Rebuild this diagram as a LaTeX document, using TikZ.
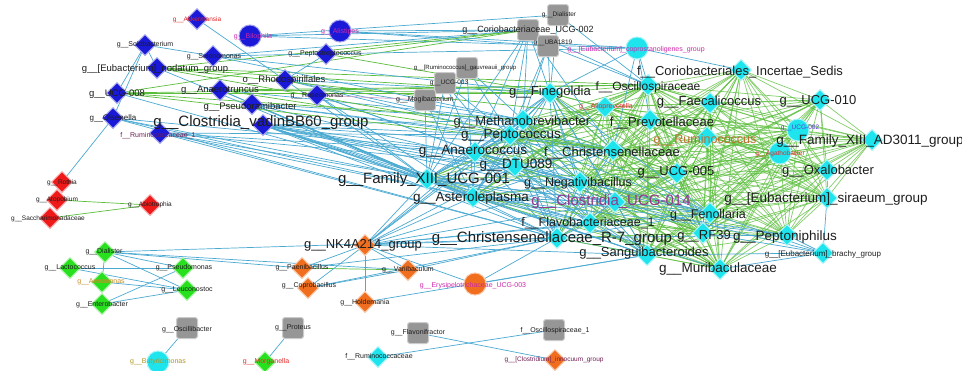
\documentclass[tikz,border=0pt]{standalone}
\usepackage{fontspec}
\setmainfont{Liberation Sans}
\usetikzlibrary{shapes.geometric}
\pgfdeclarelayer{bg}
\pgfsetlayers{bg,main}
\definecolor{cblue}{RGB}{25,25,215}
\definecolor{cred}{RGB}{240,25,25}
\definecolor{cgreen}{RGB}{40,225,30}
\definecolor{corange}{RGB}{240,110,30}
\definecolor{ccyan}{RGB}{30,228,238}
\definecolor{sqgray}{RGB}{150,150,150}
\definecolor{eblue}{RGB}{75,170,210}
\definecolor{egreen}{RGB}{90,190,60}
\definecolor{epink}{RGB}{205,160,205}
\definecolor{txt}{RGB}{30,30,30}
\definecolor{lmag}{RGB}{205,40,170}
\definecolor{lred}{RGB}{230,40,40}
\definecolor{lpur}{RGB}{150,55,140}
\definecolor{ldpur}{RGB}{115,30,85}
\definecolor{lbrown}{RGB}{190,110,45}
\definecolor{lolive}{RGB}{175,150,30}
\definecolor{lorg}{RGB}{200,140,40}
\definecolor{lbp}{RGB}{90,60,200}
\tikzset{
 fs/.style={font=\fontsize{#1}{#1}\selectfont},
 lab/.style={inner sep=0pt, text=txt},
 dia/.style={diamond, minimum width=21pt, minimum height=21pt, inner sep=0pt, fill=#1, draw=#1!40!white, line width=1pt},
 circ/.style={circle, minimum size=22pt, inner sep=0pt, fill=#1, draw=#1!40!white, line width=1pt},
 sq/.style={rectangle, rounded corners=2.5pt, minimum size=21pt, inner sep=0pt, fill=sqgray, draw=sqgray!50!white, line width=1pt},
 be/.style={draw=eblue, line width=0.7pt},
 ge/.style={draw=egreen, line width=0.7pt},
 pe/.style={draw=epink, line width=0.7pt},
}
\begin{document}
\begin{tikzpicture}[x=1pt,y=-1pt]
\useasboundingbox (0,0) rectangle (962,370);
% ---------- blue ----------
\node[dia=cblue] (akk) at (197,19) {};
\node[circ=cblue] (bil) at (250,36) {};
\node[circ=cblue] (ali) at (340,31) {};
\node[dia=cblue] (solo) at (145,45) {};
\node[dia=cblue] (sele) at (213,56) {};
\node[dia=cblue] (noda) at (157,68) {};
\node[dia=cblue] (pepst) at (326,54) {};
\node[dia=cblue] (rhodo) at (285,80) {};
\node[dia=cblue] (u008) at (117,93) {};
\node[dia=cblue] (anaert) at (220,90) {};
\node[dia=cblue] (pseudr) at (252,104) {};
\node[dia=cblue] (roseo) at (317,95) {};
\node[dia=cblue] (olsen) at (113,118) {};
\node[dia=cblue] (vadin) at (263,125) {};
\node[dia=cblue] (rumi1) at (160,133) {};
% ---------- red ----------
\node[dia=cred] (roth) at (62,182) {};
\node[dia=cred] (atop) at (57,200) {};
\node[dia=cred] (sacch) at (50,218) {};
\node[dia=cred] (abio) at (150,205) {};
% ---------- green ----------
\node[dia=cgreen] (dial) at (105,252) {};
\node[dia=cgreen] (lacto) at (70,268) {};
\node[dia=cgreen] (aero) at (102,282) {};
\node[dia=cgreen] (entero) at (102,304) {};
\node[dia=cgreen] (pseudo) at (183,268) {};
\node[dia=cgreen] (leuco) at (187,290) {};
\node[dia=cgreen] (morg) at (265,362) {};
% ---------- orange ----------
\node[dia=corange] (nk) at (365,245) {};
\node[dia=corange] (paeni) at (302,268) {};
\node[dia=corange] (varii) at (408,270) {};
\node[dia=corange] (copro) at (308,288) {};
\node[dia=corange] (holde) at (365,302) {};
\node[circ=corange] (erys) at (475,284) {};
\node[dia=corange] (innoc) at (555,360) {};
% ---------- gray ----------
\node[sq] (gdial) at (558,15) {};
\node[sq] (corio) at (528,30) {};
\node[sq] (uba) at (548,46) {};
\node[sq] (gauv) at (467,68) {};
\node[sq] (u003) at (445,83) {};
\node[sq] (mogi) at (425,100) {};
\node[sq] (oscb) at (187,328) {};
\node[sq] (prot) at (293,328) {};
\node[sq] (flavf) at (418,333) {};
\node[sq] (osc1) at (554,330) {};
% ---------- cyan ----------
\node[circ=ccyan] (butyr) at (158,362) {};
\node[circ=ccyan] (cpst) at (637,48) {};
\node[circ=ccyan] (ucg002) at (798,130) {};
\node[circ=ccyan] (agath) at (780,153) {};
\node[dia=ccyan] (rumf) at (378,357) {};
\node[dia=ccyan] (coris) at (741,70) {};
\node[dia=ccyan] (oscf) at (648,85) {};
\node[dia=ccyan] (fine) at (550,93) {};
\node[dia=ccyan] (u010) at (820,100) {};
\node[dia=ccyan] (faec) at (710,103) {};
\node[dia=ccyan] (allo) at (605,107) {};
\node[dia=ccyan] (meth) at (523,120) {};
\node[dia=ccyan] (prev) at (650,120) {};
\node[dia=ccyan] (rumc) at (707,137) {};
\node[dia=ccyan] (ad30) at (872,140) {};
\node[dia=ccyan] (pepc) at (510,135) {};
\node[dia=ccyan] (anae) at (475,152) {};
\node[dia=ccyan] (chri) at (613,150) {};
\node[dia=ccyan] (dtu) at (515,166) {};
\node[dia=ccyan] (u005) at (677,173) {};
\node[dia=ccyan] (oxal) at (827,170) {};
\node[dia=ccyan] (u001) at (427,179) {};
\node[dia=ccyan] (nega) at (580,182) {};
\node[dia=ccyan] (aste) at (473,197) {};
\node[dia=ccyan] (sira) at (827,198) {};
\node[dia=ccyan] (c014) at (615,202) {};
\node[dia=ccyan] (fenol) at (710,213) {};
\node[dia=ccyan] (flavo) at (590,223) {};
\node[dia=ccyan] (r7) at (557,238) {};
\node[dia=ccyan] (rf39) at (703,233) {};
\node[dia=ccyan] (pepn) at (787,235) {};
\node[dia=ccyan] (sang) at (647,255) {};
\node[dia=ccyan] (muri) at (720,269) {};
\node[dia=ccyan] (brach) at (823,253) {};
% ---------- edges ----------
\begin{pgfonlayer}{bg}
\fill[white] (0,0) rectangle (962,370);
\foreach \a [count=\i] in {coris,oscf,faec,u010,prev,rumc,ad30,oxal,sira,u005,fenol,rf39,pepn,muri,chri,c014,nega,allo,agath,ucg002,sang,flavo}{
  \foreach \b [count=\j] in {coris,oscf,faec,u010,prev,rumc,ad30,oxal,sira,u005,fenol,rf39,pepn,muri,chri,c014,nega,allo,agath,ucg002,sang,flavo}{
    \ifnum\j>\i \draw[ge,opacity=0.75] (\a) -- (\b); \fi
  }
}
\foreach \a [count=\i] in {meth,pepc,anae,dtu,u001,aste,r7,fine}{
  \foreach \b [count=\j] in {meth,pepc,anae,dtu,u001,aste,r7,fine}{
    \ifnum\j>\i \draw[be] (\a) -- (\b); \fi
  }
  \foreach \b in {chri,nega,c014,flavo,sang,fenol}{\draw[be] (\a) -- (\b);}
  \foreach \b in {oscf,prev,u005,rf39,muri,allo}{\draw[ge,opacity=0.85] (\a) -- (\b);}
}
\foreach \b in {u001,aste,r7,anae,pepc,dtu,nega,c014,flavo,sang,meth,fenol,chri,muri}{\draw[be] (vadin) -- (\b);}
\foreach \b in {u001,aste,r7,pepc,anae,dtu}{\draw[be] (rumi1) -- (\b);}
\foreach \b in {u001,meth,pepc,chri,aste,nega}{\draw[be] (pseudr) -- (\b);}
\foreach \b in {u001,aste,anae,dtu}{\draw[be] (roseo) -- (\b);}
\foreach \b in {meth,fine,u001,pepc,chri}{\draw[be] (rhodo) -- (\b);}
\foreach \b in {u001,meth,aste}{\draw[be] (anaert) -- (\b);}
\foreach \b in {fine,oscf,chri}{\draw[ge] (anaert) -- (\b);}
\foreach \b in {corio,fine,prev,oscf,chri}{\draw[ge] (noda) -- (\b);}
\draw[be] (noda) -- (u001);
\foreach \b in {corio,meth,fine,chri,oscf}{\draw[ge] (u008) -- (\b);}
\foreach \b in {solo,u001}{\draw[be] (u008) -- (\b);}
\foreach \b in {roth,u001,aste,anae,solo,r7}{\draw[be] (olsen) -- (\b);}
\foreach \b in {sele,noda}{\draw[be] (solo) -- (\b);}
\foreach \b in {corio,cpst,meth,fine}{\draw[be] (sele) -- (\b);}
\draw[be] (akk) -- (rhodo);
\foreach \b in {corio,cpst,gdial}{\draw[be] (bil) -- (\b);}
\foreach \b in {corio,cpst,uba}{\draw[be] (ali) -- (\b);}
\draw[be] (pepst) -- (rhodo);
\foreach \b in {corio,fine}{\draw[ge] (pepst) -- (\b);}
\foreach \b in {u001,aste,r7,dtu,anae,nega,c014,flavo,pepc,sang,meth,fenol}{\draw[be] (nk) -- (\b);}
\foreach \b in {r7,nk,dial}{\draw[be] (paeni) -- (\b);}
\draw[ge] (paeni) -- (varii);
\foreach \b in {r7,varii,nk}{\draw[be] (copro) -- (\b);}
\foreach \b in {nk,r7}{\draw[be] (varii) -- (\b);}
\foreach \b in {sang,nk}{\draw[be] (holde) -- (\b);}
\foreach \b in {r7,nk,sang}{\draw[be] (erys) -- (\b);}
\foreach \b in {varii,aero,pseudo,leuco,r7}{\draw[be] (dial) -- (\b);}
\foreach \b in {pseudo,leuco}{\draw[be] (lacto) -- (\b);}
\draw[be] (aero) -- (leuco);
\foreach \b in {pseudo,leuco}{\draw[be] (entero) -- (\b);}
\draw[ge] (atop) -- (abio);
\draw[ge] (sacch) -- (abio);
\draw[be] (oscb) -- (butyr);
\draw[be] (prot) -- (morg);
\draw[be] (flavf) -- (innoc);
\draw[be] (rumf) -- (osc1);
\foreach \b in {fine,oscf}{\draw[be] (gdial) -- (\b);}
\foreach \b in {fine,meth,oscf,pepc}{\draw[be] (uba) -- (\b);}
\foreach \b in {fine,meth,u001,chri,pepc,oscf,anae}{\draw[be] (corio) -- (\b);}
\foreach \b in {oscf,fine,coris,prev,chri}{\draw[be] (cpst) -- (\b);}
\foreach \b in {u001,meth,aste,pepc}{\draw[be] (gauv) -- (\b);}
\foreach \b in {u001,pepc,anae,dtu}{\draw[be] (u003) -- (\b);}
\foreach \b in {u001,aste}{\draw[be] (mogi) -- (\b);}
\draw[pe] (mogi) -- (roseo);
\foreach \b in {pepn,sira,muri,rf39,fenol,c014,sang}{\draw[be] (brach) -- (\b);}
\foreach \b in {u001,aste,r7}{\draw[be] (pepn) -- (\b);}
\end{pgfonlayer}
% ---------- labels ----------
\node[lab,fs=6.5,text=lred] (lakk) at (197,20) {g\_\_Akkermansia};
\node[lab,fs=7,text=lmag] (lbil) at (253,37) {g\_\_Bilophila};
\node[lab,fs=7,text=lmag] (lali) at (340,32) {g\_\_Alistipes};
\node[lab,fs=7] (lsolo) at (145,45) {g\_\_Solobacterium};
\node[lab,fs=7] (lsele) at (214,57) {g\_\_Selenomonas};
\node[lab,fs=9.5] (lnoda) at (155,69) {g\_\_[Eubacterium]\_nodatum\_group};
\node[lab,fs=7] (lpepst) at (325,54) {g\_\_Peptostreptococcus};
\node[lab,fs=9.5] (lrhodo) at (284,80) {o\_\_Rhodospirillales};
\node[lab,fs=9.5] (lu008) at (117,94) {g\_\_UCG-008};
\node[lab,fs=9.5] (lanaert) at (220,90) {g\_\_Anaerotruncus};
\node[lab,fs=9.5] (lpseudr) at (250,107) {g\_\_Pseudoramibacter};
\node[lab,fs=7] (lroseo) at (317,96) {g\_\_Roseomonas};
\node[lab,fs=8] (lolsen) at (113,118) {g\_\_Olsenella};
\node[lab,fs=15] (lvadin) at (261,123) {g\_\_Clostridia\_vadinBB60\_group};
\node[lab,fs=7,text=ldpur] (lrumi1) at (158,136) {f\_\_Ruminococcaceae\_1};
\node[lab,fs=6.5] (lroth) at (62,183) {g\_\_Rothia};
\node[lab,fs=6.5] (latop) at (57,200) {g\_\_Atopobium};
\node[lab,fs=6.5] (lsacch) at (48,219) {g\_\_Saccharimonadaceae};
\node[lab,fs=6.5] (labio) at (150,205) {g\_\_Abiotrophia};
\node[lab,fs=7] (ldial) at (104,252) {g\_\_Dialister};
\node[lab,fs=7] (llacto) at (70,268) {g\_\_Lactococcus};
\node[lab,fs=7,text=lorg] (laero) at (101,282) {g\_\_Aeromonas};
\node[lab,fs=7] (lentero) at (102,305) {g\_\_Enterobacter};
\node[lab,fs=7] (lpseudo) at (184,268) {g\_\_Pseudomonas};
\node[lab,fs=7] (lleuco) at (187,290) {g\_\_Leuconostoc};
\node[lab,fs=7,text=lred] (lmorg) at (266,362) {g\_\_Morganella};
\node[lab,fs=13] (lnk) at (363,245) {g\_\_NK4A214\_group};
\node[lab,fs=7] (lpaeni) at (302,268) {g\_\_Paenibacillus};
\node[lab,fs=7] (lvarii) at (408,270) {g\_\_Variibaculum};
\node[lab,fs=7] (lcopro) at (309,286) {g\_\_Coprobacillus};
\node[lab,fs=7] (lholde) at (365,303) {g\_\_Holdemania};
\node[lab,fs=7,text=lmag] (lerys) at (473,286) {g\_\_Erysipelotrichaceae\_UCG-003};
\node[lab,fs=6.5,text=ldpur] (linnoc) at (554,360) {g\_\_[Clostridium]\_innocuum\_group};
\node[lab,fs=6.5] (lgdial) at (559,15) {g\_\_Dialister};
\node[lab,fs=9] (lcorio) at (528,30) {g\_\_Coriobacteriaceae\_UCG-002};
\node[lab,fs=6.5] (luba) at (553,43) {g\_\_UBA1819};
\node[lab,fs=6] (lgauv) at (465,68) {g\_\_[Ruminococcus]\_gauvreauii\_group};
\node[lab,fs=6.5] (lu003) at (449,83) {g\_\_UCG-003};
\node[lab,fs=7] (lmogi) at (425,100) {g\_\_Mogibacterium};
\node[lab,fs=7] (loscb) at (187,330) {g\_\_Oscillibacter};
\node[lab,fs=7] (lprot) at (293,328) {g\_\_Proteus};
\node[lab,fs=7] (lflavf) at (418,333) {g\_\_Flavonifractor};
\node[lab,fs=7] (losc1) at (555,331) {f\_\_Oscillospiraceae\_1};
\node[lab,fs=7,text=lolive] (lbutyr) at (158,362) {g\_\_Butyricimonas};
\node[lab,fs=7] (lrumf) at (379,357) {f\_\_Ruminococcaceae};
\node[lab,fs=7,text=lmag] (lcpst) at (636,50) {g\_\_[Eubacterium]\_coprostanoligenes\_group};
\node[lab,fs=6.5,text=lbp] (lucg002) at (800,128) {g\_\_UCG-002};
\node[lab,fs=6.5,text=lred] (lagath) at (780,154) {g\_\_Agathobacter};
\node[lab,fs=13] (lcoris) at (740,72) {f\_\_Coriobacteriales\_Incertae\_Sedis};
\node[lab,fs=12] (loscf) at (648,87) {f\_\_Oscillospiraceae};
\node[lab,fs=13] (lfine) at (550,92) {g\_\_Finegoldia};
\node[lab,fs=13] (lu010) at (818,101) {g\_\_UCG-010};
\node[lab,fs=13] (lfaec) at (709,102) {g\_\_Faecalicoccus};
\node[lab,fs=7,text=lred] (lallo) at (606,107) {g\_\_Alloprevotella};
\node[lab,fs=13] (lmeth) at (522,122) {g\_\_Methanobrevibacter};
\node[lab,fs=13] (lprev) at (662,123) {f\_\_Prevotellaceae};
\node[lab,fs=12.5,text=lbrown] (lrumc) at (705,140) {g\_\_Ruminococcus};
\node[lab,fs=13.5] (lad30) at (870,141) {g\_\_Family\_XIII\_AD3011\_group};
\node[lab,fs=13.5] (lpepc) at (511,135) {g\_\_Peptococcus};
\node[lab,fs=13.5] (lanae) at (473,151) {g\_\_Anaerococcus};
\node[lab,fs=13] (lchri) at (612,153) {f\_\_Christensenellaceae};
\node[lab,fs=13.5] (ldtu) at (516,165) {g\_\_DTU089};
\node[lab,fs=13] (lu005) at (676,172) {g\_\_UCG-005};
\node[lab,fs=13] (loxal) at (828,171) {g\_\_Oxalobacter};
\node[lab,fs=15] (lu001) at (424,180) {g\_\_Family\_XIII\_UCG-001};
\node[lab,fs=12.5] (lnega) at (578,183) {g\_\_Negativibacillus};
\node[lab,fs=13.5] (laste) at (471,198) {g\_\_Asteroleplasma};
\node[lab,fs=13.5] (lsira) at (826,199) {g\_\_[Eubacterium]\_siraeum\_group};
\node[lab,fs=15,text=lpur] (lc014) at (611,202) {g\_\_Clostridia\_UCG-014};
\node[lab,fs=12.5] (lfenol) at (708,215) {g\_\_Fenollaria};
\node[lab,fs=12.5] (lflavo) at (588,223) {f\_\_Flavobacteriaceae\_1};
\node[lab,fs=15] (lr7) at (552,239) {g\_\_Christensenellaceae\_R-7\_group};
\node[lab,fs=13] (lrf39) at (704,236) {g\_\_RF39};
\node[lab,fs=13.5] (lpepn) at (785,237) {g\_\_Peptoniphilus};
\node[lab,fs=13] (lsang) at (644,253) {g\_\_Sanguibacteroides};
\node[lab,fs=13.5] (lmuri) at (718,269) {g\_\_Muribaculaceae};
\node[lab,fs=8] (lbrach) at (823,254) {g\_\_[Eubacterium]\_brachy\_group};
\end{tikzpicture}
\end{document}
